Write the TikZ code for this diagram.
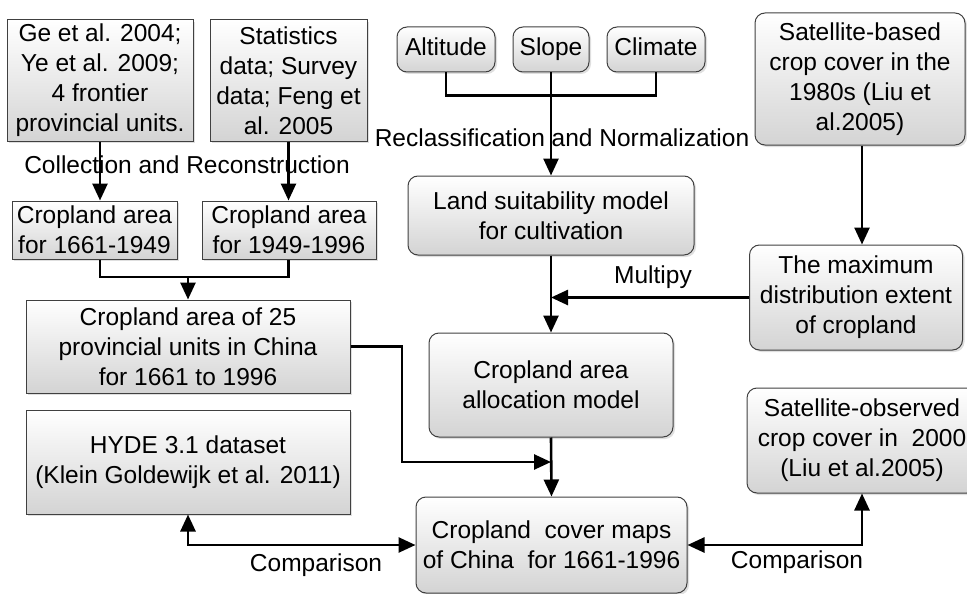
\documentclass[tikz,border=0pt]{standalone}
\usepackage{fontspec}
\setmainfont{Liberation Sans}
\usetikzlibrary{arrows.meta,shadows}

\begin{document}
\begin{tikzpicture}[x=1pt,y=-1pt,
  box/.style={draw=black!75,line width=1pt,top color=white,bottom color=black!17,align=center,inner sep=0pt,
    drop shadow={shadow xshift=2pt,shadow yshift=-2pt,opacity=.25},font=\fontsize{24.5}{30}\selectfont},
  rbox/.style={box,rounded corners=10pt},
  small/.style={rbox,minimum height=45,text height=18pt,text depth=5pt},
  lbl/.style={font=\fontsize{24.5}{30}\selectfont},
  link/.style={line width=2.6pt},
  arr/.style={link,-{Triangle[length=17pt,width=15pt]}},
  darr/.style={link,{Triangle[length=17pt,width=15pt]}-{Triangle[length=17pt,width=15pt]}}]
\useasboundingbox (0,0) rectangle (967,594);
\node[box,minimum width=186,minimum height=121] (ge) at (100,80.5) {Ge et al. 2004;\\Ye et al. 2009;\\4 frontier\\provincial units.};
\node[box,minimum width=157,minimum height=121] (stat) at (288.5,80.5) {Statistics\\data; Survey\\data; Feng et\\al. 2005};
\node[box,minimum width=165,minimum height=58] (ca1) at (94.5,230) {Cropland area\\for 1661-1949};
\node[box,minimum width=174,minimum height=58] (ca2) at (289,230) {Cropland area\\for 1949-1996};
\node[box,minimum width=324,minimum height=93] (ca25) at (188,346.5) {Cropland area of 25\\provincial units in China\\for 1661 to 1996};
\node[box,minimum width=324,minimum height=104] (hyde) at (188,462) {HYDE 3.1 dataset\\(Klein Goldewijk et al. 2011)};
\node[small,minimum width=98] (alt) at (446,49.5) {Altitude};
\node[small,minimum width=76] (slope) at (551,49.5) {Slope};
\node[small,minimum width=98] (clim) at (656,49.5) {Climate};
\node[rbox,minimum width=286,minimum height=79] (suit) at (551,215.5) {Land suitability model\\for cultivation};
\node[rbox,minimum width=210,minimum height=132] (satb) at (860,79) {Satellite-based\\crop cover in the\\1980s (Liu et\\al.2005)};
\node[rbox,minimum width=213,minimum height=105] (maxd) at (856,297.5) {The maximum\\distribution extent\\of cropland};
\node[rbox,minimum width=244,minimum height=104] (alloc) at (551,385) {Cropland area\\allocation model};
\node[rbox,minimum width=230,minimum height=105] (sato) at (862,440.5) {Satellite-observed\\crop cover in\ \ 2000\\(Liu et al.2005)};
\node[rbox,minimum width=271,minimum height=96] (cover) at (551.5,545) {Cropland\ \ cover maps\\of China\ \ for 1661-1996};
\node[lbl] (collect) at (187,165) {Collection and Reconstruction};
\node[lbl] (reclass) at (562,138) {Reclassification and Normalization};
\node[lbl] (multi) at (653,277) {Multipy};
\node[lbl] (cmp1) at (316,565) {Comparison};
\node[lbl] (cmp2) at (797,562) {Comparison};
\coordinate (j1) at (188,277);
\draw[arr] (ge.south) -- (ge.south |- ca1.north); \draw[arr] (stat.south) -- (stat.south |- ca2.north);
\draw[link] (ge.south |- ca1.south) -- (ge.south |- j1) -- (stat.south |- j1) -- (stat.south |- ca2.south);
\draw[arr] (j1) -- (ca25.north);
\draw[link] (alt.south) -- ++(0,23) -| (clim.south); \draw[arr] (slope.south) -- (suit.north);
\draw[arr] (satb.south -| 862,0) -- (maxd.north -| 862,0);
\draw[arr] (maxd.west) -- (maxd.west -| suit.south);
\draw[arr] (suit.south) -- (alloc.north);
\draw[arr] (ca25.east) -- (402,346.5) |- (alloc.south |- 0,462);
\draw[arr] (alloc.south) -- (cover.north);
\draw[darr] (hyde.south) |- (cover.west);
\draw[darr] (cover.east) -| (sato.south);
\end{tikzpicture}
\end{document}
